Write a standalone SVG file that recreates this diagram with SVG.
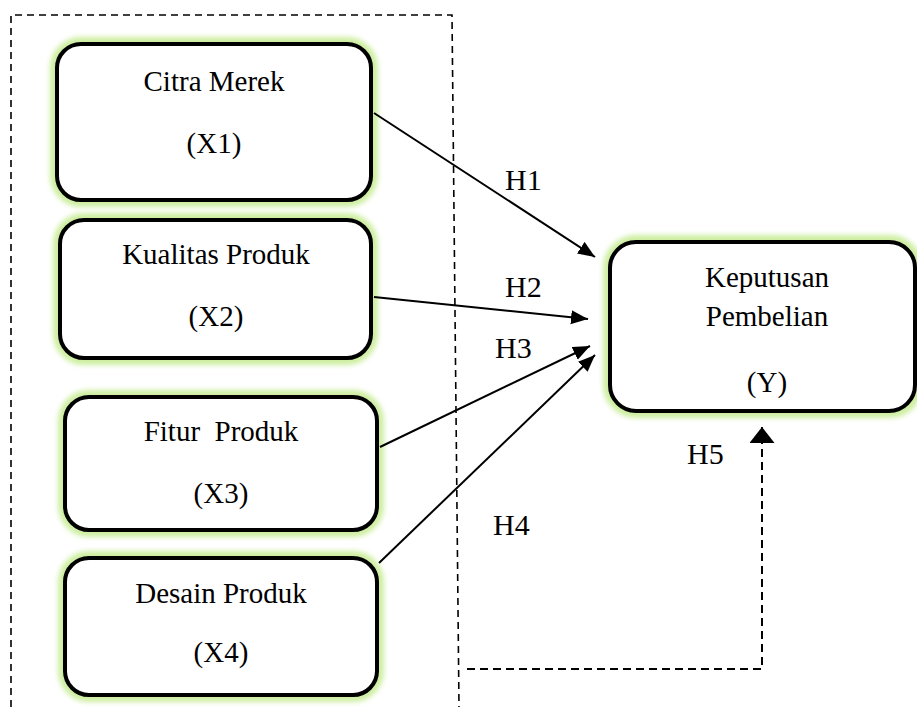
<svg xmlns="http://www.w3.org/2000/svg" width="917" height="707" viewBox="0 0 917 707">
<defs>
<style>
.box{fill:#fff;stroke:#000;stroke-width:4}
.glow{fill:none;stroke:#cdeea0;stroke-width:10;filter:url(#blur)}
.t{font-family:"Liberation Serif","Times New Roman",serif;font-size:29px;fill:#000;text-anchor:middle}
.h{font-family:"Liberation Serif","Times New Roman",serif;font-size:30px;fill:#000}
.edge{stroke:#000;stroke-width:2;fill:none;marker-end:url(#ah)}
.frame{stroke:#000;stroke-width:1.6;fill:none;stroke-dasharray:7 5}
.dash5{stroke:#000;stroke-width:2;fill:none;stroke-dasharray:8 5;marker-end:url(#ah5)}
</style>
<filter id="blur" x="-10%" y="-10%" width="120%" height="120%"><feGaussianBlur stdDeviation="2.5"/></filter>
<marker id="ah" markerUnits="userSpaceOnUse" markerWidth="18" markerHeight="16" refX="17" refY="7" orient="auto"><path d="M0,0 L17,7 L0,14 Z" fill="#000"/></marker>
<marker id="ah5" markerUnits="userSpaceOnUse" markerWidth="18" markerHeight="26" refX="16" refY="12.5" orient="auto"><path d="M0,0 L16,12.5 L0,25 Z" fill="#000"/></marker>
</defs>
<g id="frame">
<path class="frame" d="M11,707 L11,15 L452,15 L459,707"/>
</g>
<g id="x1">
<rect class="glow" x="55" y="42" width="318" height="160" rx="26"/>
<rect class="box" x="57" y="44" width="314" height="156" rx="24"/>
<text class="t" x="214" y="91">Citra Merek</text>
<text class="t" x="214" y="153">(X1)</text>
</g>
<g id="x2">
<rect class="glow" x="58" y="218" width="315" height="142" rx="26"/>
<rect class="box" x="60" y="220" width="311" height="138" rx="24"/>
<text class="t" x="216" y="264">Kualitas Produk</text>
<text class="t" x="216" y="326">(X2)</text>
</g>
<g id="x3">
<rect class="glow" x="63" y="395" width="316" height="137" rx="26"/>
<rect class="box" x="65" y="397" width="312" height="133" rx="24"/>
<text class="t" x="221" y="441" xml:space="preserve">Fitur  Produk</text>
<text class="t" x="221" y="503">(X3)</text>
</g>
<g id="x4">
<rect class="glow" x="63" y="556" width="316" height="141" rx="26"/>
<rect class="box" x="65" y="558" width="312" height="137" rx="24"/>
<text class="t" x="221" y="603">Desain Produk</text>
<text class="t" x="221" y="662">(X4)</text>
</g>
<g id="y">
<rect class="glow" x="608" y="240" width="310" height="173" rx="28"/>
<rect class="box" x="610" y="242" width="305" height="169" rx="26"/>
<text class="t" x="767" y="287">Keputusan</text>
<text class="t" x="767" y="326">Pembelian</text>
<text class="t" x="767" y="392">(Y)</text>
</g>
<g id="connectors">
<line class="edge" x1="374" y1="113" x2="595" y2="257"/>
<line class="edge" x1="374" y1="297" x2="588" y2="319"/>
<line class="edge" x1="380" y1="447" x2="590" y2="346"/>
<line class="edge" x1="379" y1="563" x2="595" y2="355"/>
<path class="dash5" d="M467,669 L762,669 L762,427"/>
</g>
<g id="labels">
<text class="h" x="505" y="190">H1</text>
<text class="h" x="505" y="297">H2</text>
<text class="h" x="495" y="358">H3</text>
<text class="h" x="493" y="535">H4</text>
<text class="h" x="687" y="464">H5</text>
</g>
</svg>
